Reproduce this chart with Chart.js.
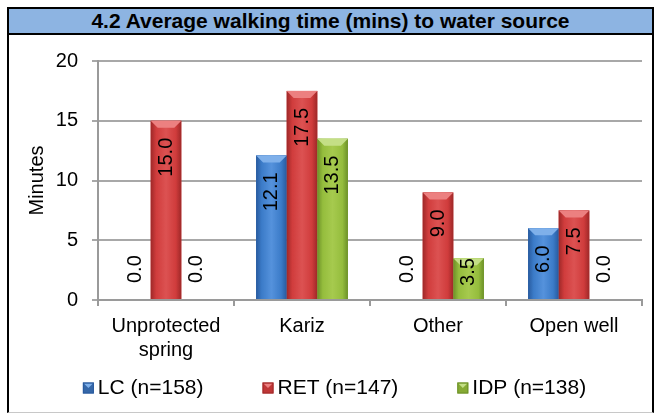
<!DOCTYPE html>
<html>
<head>
<meta charset="utf-8">
<script src="https://cdn.jsdelivr.net/npm/chart.js@4"></script>
<style>
body { margin: 0; background: #fff; width: 656px; height: 415px; overflow: hidden; position: relative; }
#frame { position: absolute; left: 7px; top: 7px; width: 647px; height: 406px; box-sizing: border-box; border: 2px solid #000; border-bottom: 1px solid #c8c8c8; }
#title { height: 24px; line-height: 25px; background: #8db4e2; border-bottom: 2px solid #000; text-align: center; font: bold 21px "Liberation Sans", Arial, sans-serif; color: #000; }
canvas { display: block; }
</style>
</head>
<body>
<div id="frame">
  <div id="title">4.2 Average walking time (mins) to water source</div>
  <canvas id="chart" width="643" height="377"></canvas>
</div>
<script>
const categories = [['Unprotected', 'spring'], 'Kariz', 'Other', 'Open well'];
const seriesNames = ['LC (n=158)', 'RET (n=147)', 'IDP (n=138)'];
const lcValues = [0.0, 12.1, 0.0, 6.0];
const retValues = [15.0, 17.5, 9.0, 7.5];
const idpValues = [0.0, 13.5, 3.5, 0.0];
const yTicks = [0, 5, 10, 15, 20];

const FONT = '"Liberation Sans", Arial, sans-serif';

// base / dark edge / light middle / bevel top
const shades = [
    { base: '#3b7bc8', dark: '#285a9e', light: '#5592dc', top: '#7fb0ea', legend: '#3567a8' },
    { base: '#d03c3c', dark: '#9e2828', light: '#dc5252', top: '#ec8080', legend: '#bf3636' },
    { base: '#95bd3d', dark: '#6c9028', light: '#a6ca4e', top: '#c4df86', legend: '#86aa34' }
];

const barShade = {
    id: 'barShade',
    afterDatasetsDraw(chart) {
        const ctx = chart.ctx;
        ctx.save();
        chart.data.datasets.forEach((ds, i) => {
            const c = shades[i];
            chart.getDatasetMeta(i).data.forEach((bar, j) => {
                const { x, y, base, width } = bar.getProps(['x', 'y', 'base', 'width'], true);
                const h = base - y;
                if (h >= 1) {
                    const l = x - width / 2, r = x + width / 2;
                    const g = ctx.createLinearGradient(l, 0, r, 0);
                    g.addColorStop(0, c.dark);
                    g.addColorStop(0.18, c.base);
                    g.addColorStop(0.5, c.light);
                    g.addColorStop(0.82, c.base);
                    g.addColorStop(1, c.dark);
                    ctx.fillStyle = g;
                    ctx.fillRect(l, y, width, h);
                    const b = Math.min(7, h / 2);
                    ctx.beginPath();
                    ctx.moveTo(l, y);
                    ctx.lineTo(r, y);
                    ctx.lineTo(r - b, y + b);
                    ctx.lineTo(l + b, y + b);
                    ctx.closePath();
                    ctx.fillStyle = c.top;
                    ctx.fill();
                }
                // value label, rotated
                const v = ds.data[j];
                const txt = v.toFixed(1);
                ctx.save();
                ctx.font = '20px ' + FONT;
                ctx.fillStyle = '#000';
                ctx.textBaseline = 'middle';
                const len = ctx.measureText(txt).width;
                if (v > 0) {
                    const off = h >= len + 34 ? 17 : 0;
                    ctx.translate(x, y + off);
                    ctx.rotate(-Math.PI / 2);
                    ctx.textAlign = 'right';
                } else {
                    ctx.translate(x, base - 17);
                    ctx.rotate(-Math.PI / 2);
                    ctx.textAlign = 'left';
                }
                ctx.fillText(txt, 0, 0);
                ctx.restore();
            });
        });
        ctx.restore();
    }
};

// legend drawn by hand so the item spacing matches
const legendRow = {
    id: 'legendRow',
    afterDraw(chart) {
        const ctx = chart.ctx;
        ctx.save();
        ctx.font = '21px ' + FONT;
        ctx.textBaseline = 'middle';
        ctx.textAlign = 'left';
        const box = 11, gap = 4, space = 59;
        const widths = seriesNames.map(n => ctx.measureText(n).width);
        const total = widths.reduce((a, w) => a + box + gap + w, 0) + space * (seriesNames.length - 1);
        let x = chart.width / 2 + 4 - total / 2;
        const y = chart.chartArea.bottom + 88;
        seriesNames.forEach((name, i) => {
            const c = shades[i];
            ctx.fillStyle = c.legend;
            ctx.fillRect(x, y - 5.5, box, box);
            ctx.fillStyle = c.top;
            ctx.beginPath();
            ctx.moveTo(x + 1, y - 4.5);
            ctx.lineTo(x + box - 1, y - 4.5);
            ctx.lineTo(x + box / 2, y);
            ctx.closePath();
            ctx.fill();
            ctx.strokeStyle = c.dark;
            ctx.lineWidth = 1;
            ctx.strokeRect(x + 0.5, y - 5, box - 1, box - 1);
            ctx.fillStyle = '#000';
            ctx.fillText(name, x + box + gap, y);
            x += box + gap + widths[i] + space;
        });
        ctx.restore();
    }
};

Chart.defaults.font.family = FONT;
Chart.defaults.color = '#000';

new Chart(document.getElementById('chart'), {
    type: 'bar',
    data: {
        labels: categories,
        datasets: [
            { label: seriesNames[0], data: lcValues, backgroundColor: shades[0].base },
            { label: seriesNames[1], data: retValues, backgroundColor: shades[1].base },
            { label: seriesNames[2], data: idpValues, backgroundColor: shades[2].base }
        ]
    },
    options: {
        responsive: false,
        animation: false,
        devicePixelRatio: 1,
        categoryPercentage: 0.675,
        barPercentage: 1,
        layout: { padding: { left: 20, right: 10, top: 20, bottom: 42 } },
        plugins: {
            tooltip: { enabled: false },
            legend: { display: false }
        },
        scales: {
            x: {
                grid: { drawOnChartArea: false, drawTicks: true, tickLength: 6, color: '#9a9a9a', lineWidth: 2 },
                border: { color: '#9a9a9a', width: 2 },
                ticks: { font: { size: 20 }, padding: 8, maxRotation: 0, autoSkip: false },
                afterFit(scale) { scale.height = 70; }
            },
            y: {
                min: yTicks[0],
                max: yTicks[yTicks.length - 1],
                afterBuildTicks(scale) { scale.ticks = yTicks.map(v => ({ value: v })); },
                grid: { color: '#a8a8a8', lineWidth: 2, tickLength: 6 },
                border: { color: '#9a9a9a', width: 2 },
                ticks: { font: { size: 20 }, padding: 14 },
                title: { display: true, text: 'Minutes', font: { size: 20 }, padding: { top: -4, bottom: 0 } },
                afterFit(scale) { scale.width = 69; }
            }
        }
    },
    plugins: [barShade, legendRow]
});
</script>
</body>
</html>
